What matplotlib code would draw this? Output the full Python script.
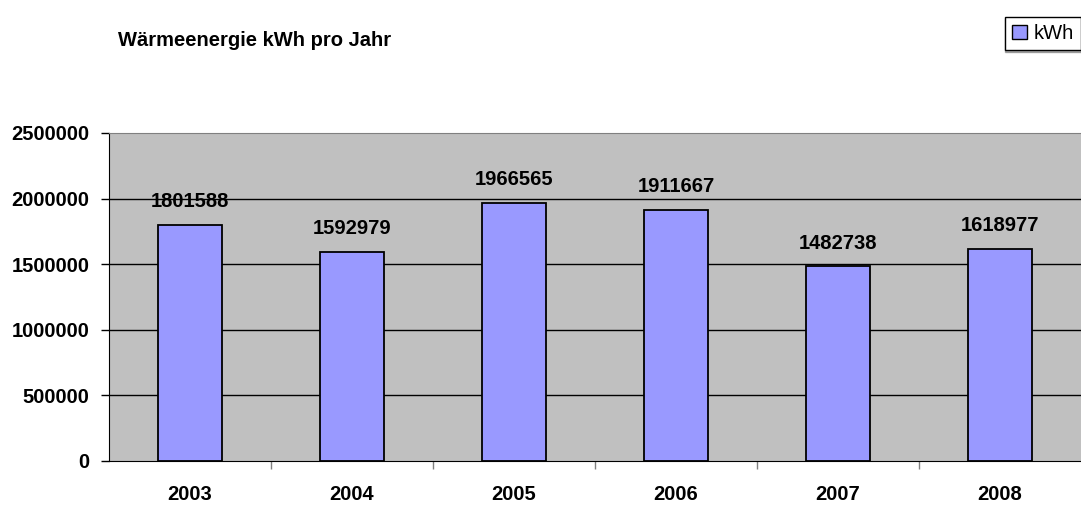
import matplotlib
matplotlib.use('agg')
import matplotlib.pyplot as plt
from matplotlib.patches import Patch

years = ['2003', '2004', '2005', '2006', '2007', '2008']
kwh = [1801588, 1592979, 1966565, 1911667, 1482738, 1618977]
yticks = [0, 500000, 1000000, 1500000, 2000000, 2500000]

plt.rcParams['font.family'] = ['Liberation Sans', 'DejaVu Sans']
fs = 14.5

fig = plt.figure(figsize=(10.81, 5.05), dpi=100)
ax = fig.add_axes([109 / 1081, 1 - 461 / 505, 1 - 109 / 1081, 328 / 505])
ax.set_facecolor('#c0c0c0')

x = list(range(len(years)))
bars = ax.bar(x, kwh, width=0.4, color='#9999ff', edgecolor='black',
              linewidth=1.3, zorder=3)
ax.bar_label(bars, labels=[str(v) for v in kwh], padding=10,
             fontsize=fs, fontweight='bold')

ax.set_xlim(-0.5, len(years) - 0.5)
ax.set_ylim(0, 2500000)
ax.set_yticks(yticks)
ax.set_yticklabels([str(v) for v in yticks], fontsize=fs, fontweight='bold')
for v in yticks[1:-1]:
    ax.axhline(v, color='black', linewidth=1, zorder=1)

ax.set_xticks(x)
ax.set_xticklabels(years, fontsize=fs, fontweight='bold')
ax.set_xticks([i + 0.5 for i in range(len(years) - 1)], minor=True)
ax.tick_params(axis='x', which='major', length=0, pad=17)
ax.tick_params(axis='x', which='minor', length=6, width=1, color='#808080',
               direction='out')
ax.tick_params(axis='y', length=6, width=1, color='black', pad=8)

ax.spines['top'].set_color('#808080')
ax.spines['right'].set_visible(False)
ax.spines['left'].set_color('black')
ax.spines['bottom'].set_color('black')

fig.text(118 / 1081, 1 - 40 / 505, 'Wärmeenergie kWh pro Jahr', fontsize=fs,
         fontweight='bold', va='center', ha='left')

leg = fig.legend(handles=[Patch(facecolor='#9999ff', edgecolor='black', label='kWh')],
                 loc='upper right', bbox_to_anchor=(1.0, 1 - 17 / 505),
                 fontsize=fs, frameon=True, fancybox=False, edgecolor='black',
                 handlelength=0.75, handleheight=0.75, handletextpad=0.35,
                 borderpad=0.35, borderaxespad=0,
                 shadow={'ox': 0, 'oy': -1.5, 'color': '#606060'})
leg.get_frame().set_linewidth(1)

plt.savefig('out.png', dpi=100)
